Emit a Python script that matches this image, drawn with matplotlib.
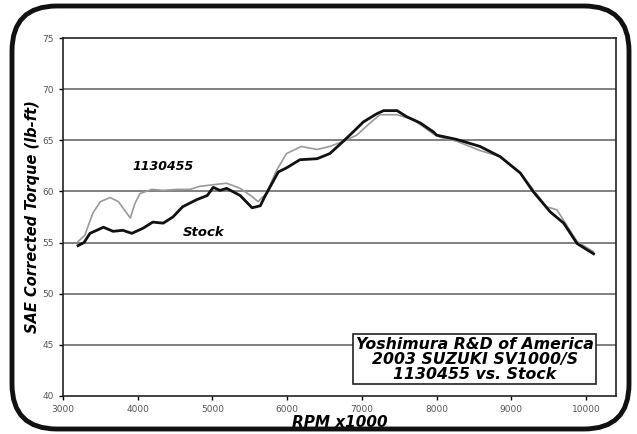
import matplotlib.pyplot as plt
from matplotlib.patches import FancyBboxPatch

# dyno torque readings
rpm_stock = [3200, 3280, 3360, 3540, 3670, 3800, 3920, 4070, 4200, 4340, 4470, 4600,
             4790, 4930, 5010, 5100, 5190, 5370, 5530, 5640, 5700, 5880, 5990, 6170,
             6400, 6570, 6750, 6880, 7020, 7200, 7290, 7470, 7600, 7780, 7960, 8000,
             8260, 8580, 8850, 9120, 9290, 9520, 9700, 9880, 10100]
tq_stock = [54.7, 55.0, 55.9, 56.5, 56.1, 56.2, 55.9, 56.4, 57.0, 56.9, 57.5, 58.5,
            59.2, 59.6, 60.4, 60.1, 60.3, 59.6, 58.4, 58.6, 59.5, 61.9, 62.3, 63.1,
            63.2, 63.7, 64.9, 65.8, 66.8, 67.6, 67.9, 67.9, 67.3, 66.7, 65.8, 65.5,
            65.1, 64.4, 63.4, 61.8, 60.0, 58.0, 56.9, 54.9, 53.9]

rpm_mod = [3200, 3290, 3400, 3500, 3630, 3740, 3900, 3960, 4030, 4190, 4340, 4520,
           4700, 4830, 5060, 5190, 5370, 5530, 5610, 5720, 5860, 5990, 6190, 6400,
           6570, 6750, 6930, 7110, 7240, 7470, 7690, 7960, 8050, 8270, 8580, 8850,
           9120, 9290, 9470, 9610, 9740, 9880, 10100]
tq_mod = [55.1, 55.7, 57.9, 59.0, 59.4, 59.0, 57.4, 58.8, 59.8, 60.2, 60.1, 60.2,
          60.2, 60.5, 60.7, 60.8, 60.3, 59.5, 59.0, 59.8, 62.1, 63.7, 64.4, 64.1,
          64.4, 64.9, 65.5, 66.7, 67.5, 67.5, 67.0, 65.6, 65.3, 64.9, 64.0, 63.4,
          61.8, 60.2, 58.5, 58.2, 56.7, 55.1, 54.1]

x_ticks = [3000, 4000, 5000, 6000, 7000, 8000, 9000, 10000]
y_ticks = [40, 45, 50, 55, 60, 65, 70, 75]

fig = plt.figure(figsize=(6.37, 4.34), dpi=100)
ax = fig.add_axes([0.099, 0.0876, 0.868, 0.8248])

for y in y_ticks[1:-1]:
    ax.axhline(y, color='#808080', lw=1.4, zorder=1)

ax.plot(rpm_mod, tq_mod, color='#9a9a9a', lw=1.2, zorder=3)
ax.plot(rpm_stock, tq_stock, color='#111111', lw=2.0, zorder=4)

ax.set_xlim(3000, 10400)
ax.set_ylim(40, 75)
ax.set_xticks(x_ticks)
ax.set_yticks(y_ticks)
ax.tick_params(labelsize=6.5, labelcolor='#555555', length=3, width=1, direction='out')
for s in ax.spines.values():
    s.set_linewidth(1.2)
    s.set_color('#222222')

font = dict(family='DejaVu Sans', weight='heavy', style='italic')
ax.set_xlabel('RPM x1000', fontsize=11, labelpad=1, **font)
ax.set_ylabel('SAE Corrected Torque (lb-ft)', fontsize=10.5, labelpad=2, **font)

ax.text(3930, 62.4, '1130455', fontsize=9, va='center', **font)
ax.text(4600, 56.0, 'Stock', fontsize=9.5, va='center', **font)

ax.text(8508, 43.6, 'Yoshimura R&D of America\n2003 SUZUKI SV1000/S\n1130455 vs. Stock',
        fontsize=11.3, ha='center', va='center', linespacing=1.0, zorder=5,
        bbox=dict(boxstyle='square,pad=0.15', fc='white', ec='#222222', lw=1.2), **font)

# rounded frame around the whole chart
frame = FancyBboxPatch((12, 5), 617, 423, boxstyle='round,pad=0,rounding_size=45',
                       transform=None, fill=False, ec='#111111', lw=3.5)
fig.patches.append(frame)

fig.savefig('out.png', dpi=100)
